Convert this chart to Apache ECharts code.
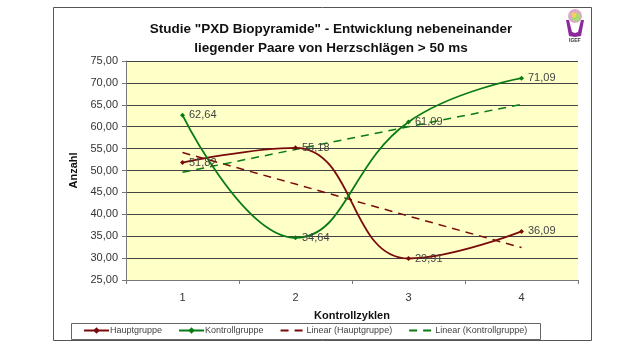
<!DOCTYPE html>
<html>
<head>
<meta charset="utf-8">
<script src="https://cdn.jsdelivr.net/npm/echarts@6/dist/echarts.min.js"></script>
<style>
  html, body { margin: 0; padding: 0; background: #fff; }
  #main { width: 640px; height: 355px; }
</style>
</head>
<body>
<div id="main"></div>
<script>
var categories = ["1", "2", "3", "4"];
var hauptgruppe = [51.82, 55.18, 29.91, 36.09];
var kontrollgruppe = [62.64, 34.64, 61.09, 71.09];
// trend lines
var linearHaupt = [54.1, 46.9, 39.6, 32.4];
var linearKontroll = [49.6, 54.8, 60.0, 65.1];

var RED = "#7a0a0a";
var GREEN = "#0a7a14";
var fmt = function (v) { return v.toFixed(2).replace(".", ","); };

var chart = echarts.init(document.getElementById("main"));

var option = {
  backgroundColor: "#fff",
  textStyle: { fontFamily: "Liberation Sans, Arial, sans-serif" },
  animation: false,
  title: {
    text: 'Studie "PXD Biopyramide" - Entwicklung nebeneinander\nliegender Paare von Herzschlägen > 50 ms',
    left: 326,
    textAlign: "center",
    top: 15,
    textStyle: { fontSize: 13.5, fontWeight: "bold", color: "#111", lineHeight: 19 }
  },
  graphic: [
    {
      type: "rect",
      shape: { x: 53.5, y: 7.5, width: 538, height: 333 },
      style: { fill: null, stroke: "#555", lineWidth: 1 },
      z: -1
    },
    {
      type: "rect",
      shape: { x: 71.5, y: 323.5, width: 469, height: 16 },
      style: { fill: null, stroke: "#666", lineWidth: 1 }
    },
    // small logo
    { type: "circle", shape: { cx: 575, cy: 16, r: 7 }, style: { fill: "#e0a8c8" } },
    { type: "circle", shape: { cx: 576, cy: 17, r: 4.5 }, style: { fill: "#a8d878" } },
    { type: "circle", shape: { cx: 574, cy: 15, r: 2.5 }, style: { fill: "#f0d060" } },
    { type: "polygon", shape: { points: [[566, 20], [569, 20], [572, 32], [575, 33], [575, 37], [569, 36]] }, style: { fill: "#8a2a9a" } },
    { type: "polygon", shape: { points: [[584, 20], [581, 20], [578, 32], [575, 33], [575, 37], [581, 36]] }, style: { fill: "#8a2a9a" } },
    { type: "text", style: { x: 569, y: 38, text: "IGEF", fontSize: 5, fill: "#333", fontWeight: "bold" } }
  ],
  grid: { left: 126, right: 62, top: 61, bottom: 75, backgroundColor: "#ffffc8", show: true, borderWidth: 0 },
  xAxis: {
    type: "category",
    data: categories,
    boundaryGap: true,
    name: "Kontrollzyklen",
    nameLocation: "middle",
    nameGap: 30,
    nameTextStyle: { fontSize: 11, fontWeight: "bold", color: "#111" },
    axisLine: { lineStyle: { color: "#777" } },
    axisTick: { show: true, length: 4, lineStyle: { color: "#777" } },
    axisLabel: { fontSize: 11, color: "#333", margin: 12 }
  },
  yAxis: {
    type: "value",
    min: 25,
    max: 75,
    interval: 5,
    name: "Anzahl",
    nameLocation: "middle",
    nameGap: 42,
    nameTextStyle: { fontSize: 11, fontWeight: "bold", color: "#111" },
    axisLine: { show: true, lineStyle: { color: "#777" } },
    axisTick: { show: true, length: 4, lineStyle: { color: "#777" } },
    axisLabel: { fontSize: 11, color: "#333", formatter: fmt },
    splitLine: { lineStyle: { color: "#444", width: 1 } }
  },
  legend: {
    left: 83,
    top: 326,
    itemGap: 16,
    itemWidth: 25,
    itemHeight: 8,
    padding: 0,
    textStyle: { fontSize: 9, color: "#444", padding: [0, 0, 0, -4] },
    data: [
      "Hauptgruppe",
      "Kontrollgruppe",
      { name: "Linear (Hauptgruppe)", itemStyle: { opacity: 0 } },
      { name: "Linear (Kontrollgruppe)", itemStyle: { opacity: 0 } }
    ]
  },
  series: [
    {
      name: "Hauptgruppe",
      type: "line",
      data: hauptgruppe,
      smooth: 0.45,
      symbol: "diamond",
      symbolSize: 5,
      color: RED,
      lineStyle: { color: RED, width: 1.8 },
      label: { show: true, position: "right", distance: 4, fontSize: 11, color: "#444", formatter: function (p) { return fmt(p.value); } },
      z: 3
    },
    {
      name: "Kontrollgruppe",
      type: "line",
      data: kontrollgruppe,
      smooth: 0.45,
      symbol: "diamond",
      symbolSize: 5,
      color: GREEN,
      lineStyle: { color: GREEN, width: 1.8 },
      label: { show: true, position: "right", distance: 4, fontSize: 11, color: "#444", formatter: function (p) { return fmt(p.value); } },
      z: 3
    },
    {
      name: "Linear (Hauptgruppe)",
      type: "line",
      data: linearHaupt,
      symbol: "none",
      color: RED,
      lineStyle: { color: RED, width: 1.5, type: [8, 6] },
      z: 2
    },
    {
      name: "Linear (Kontrollgruppe)",
      type: "line",
      data: linearKontroll,
      symbol: "none",
      color: GREEN,
      lineStyle: { color: GREEN, width: 1.5, type: [8, 6] },
      z: 2
    }
  ]
};

chart.setOption(option);
</script>
</body>
</html>
